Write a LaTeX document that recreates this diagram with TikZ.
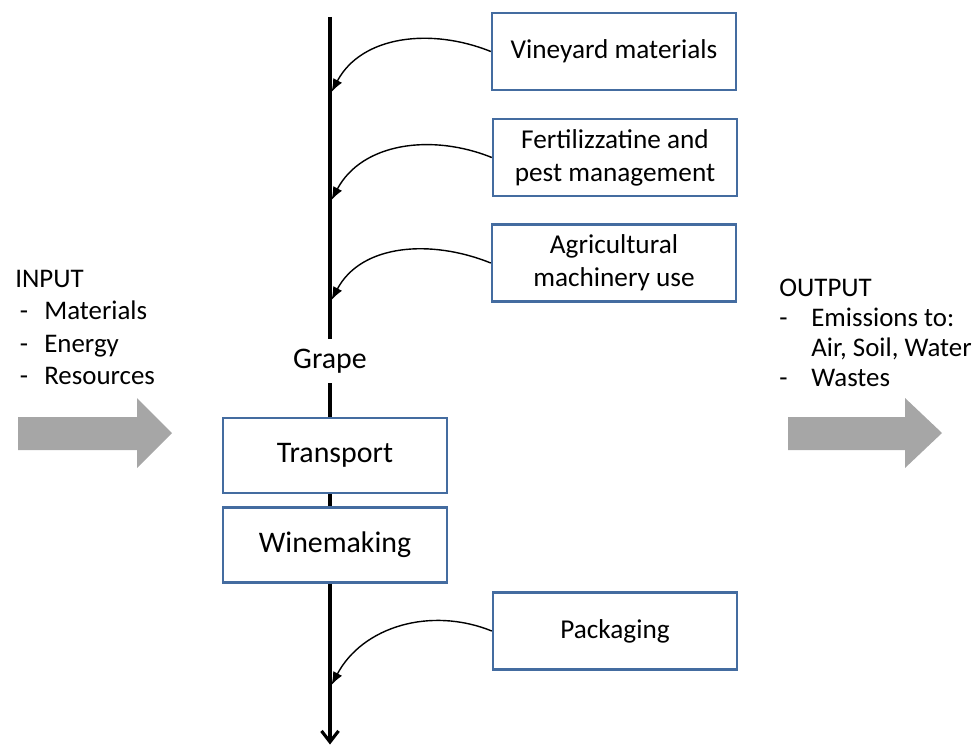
\documentclass[tikz,border=0pt]{standalone}
\usepackage{fontspec}
\setmainfont{Carlito}
\usepackage{tikz}
\usetikzlibrary{positioning}
\usetikzlibrary{arrows.meta}
\definecolor{boxblue}{RGB}{68,108,160}
\colorlet{flowgray}{black!35}
\tikzset{>=latex}
\tikzset{
  stage/.style={draw=boxblue, line width=1.4pt, minimum width=4.48cm,
    minimum height=1.5cm, font=\fontsize{17}{20}\selectfont},
  supply/.style={draw=boxblue, line width=1.4pt, minimum width=4.88cm,
    minimum height=1.54cm, align=center, font=\fontsize{15.5}{18.8}\selectfont},
  feed/.style={-{Latex[length=2.6mm,width=2mm]}, line width=0.8pt},
  mainline/.style={line width=1.8pt}
}

\begin{document}
\begin{tikzpicture}

\useasboundingbox (0,0) rectangle (19.6,14.94);

% ================= Main chain =================
\coordinate (start) at (6.6,14.6);
\coordinate (finish) at (6.6,0.05);
\node[inner sep=5.5pt, font=\fontsize{17}{20}\selectfont] (grape) at (6.6,7.72) {Grape};
\node[stage] (transport) at (6.7,5.83) {Transport};
\node[stage] (winemaking) at (6.7,4.04) {Winemaking};

\draw[mainline] (start) -- (grape);
\draw[mainline] (grape) -- (grape|-transport.north);
\draw[mainline] (grape|-transport.south) -- (grape|-winemaking.north);
\draw[mainline, -{Straight Barb[length=2.2mm,width=3.4mm]}]
  (grape|-winemaking.south) -- (finish);

% ================= Supply boxes =================
\node[supply] (vineyard) at (12.28,13.91) {Vineyard materials};
\node[supply] (fertil) at (12.3,11.79) {Fertilizzatine and\\pest management};
\node[supply] (machinery) at (12.28,9.68) {Agricultural\\machinery use};
\node[supply] (packaging) at (12.3,2.32) {Packaging};

\coordinate (in1) at (6.63,13.1);
\coordinate (in2) at (6.63,10.94);
\coordinate (in3) at (6.63,8.94);
\coordinate (in4) at (6.63,1.24);

\foreach \b/\c in {vineyard/in1, fertil/in2, machinery/in3, packaging/in4}{
  \draw[feed] (\b.west) to[out=158,in=62] (\c);
}

% ================= Input / output =================
\node[anchor=north west, align=left, inner sep=0pt,
  font=\fontsize{15.3}{18.4}\selectfont] (input) at (0.3,9.54)
  {INPUT\\
   \makebox[0.58cm][l]{\,-}Materials\\
   \makebox[0.58cm][l]{\,-}Energy\\
   \makebox[0.58cm][l]{\,-}Resources};

\node[anchor=north west, align=left, inner sep=0pt,
  font=\fontsize{15.3}{17}\selectfont] (output) at (15.58,9.36)
  {OUTPUT\\
   \makebox[0.64cm][l]{-}Emissions to:\\
   \makebox[0.64cm][l]{}Air, Soil, Water\\
   \makebox[0.64cm][l]{-}Wastes};

\fill[flowgray] (0.36,6.6) -- (2.74,6.6) -- (2.74,6.98) -- (3.44,6.28)
  -- (2.74,5.58) -- (2.74,5.94) -- (0.36,5.94) -- cycle;
\fill[flowgray] (15.76,6.6) -- (18.1,6.6) -- (18.1,6.98) -- (18.84,6.28)
  -- (18.1,5.58) -- (18.1,5.94) -- (15.76,5.94) -- cycle;

\end{tikzpicture}
\end{document}
